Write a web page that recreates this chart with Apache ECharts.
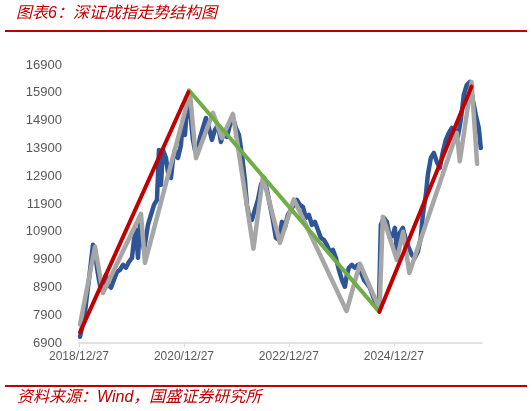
<!DOCTYPE html>
<html>
<head>
<meta charset="utf-8">
<title>深证成指走势结构图</title>
<script src="https://cdn.jsdelivr.net/npm/echarts@6/dist/echarts.min.js"></script>
<style>
  html, body { margin: 0; padding: 0; background: #fff; }
  #main { width: 532px; height: 411px; }
</style>
</head>
<body>
<div id="main"></div>
<script>
// x values are years after 2018/12/27
const yTicks = [6900, 16900, 1000]; // min, max, step
const xLabelYears = [2018, 2020, 2022, 2024];

// 深证成指 (daily close)
const indexT = [0.019, 0.057, 0.114, 0.152, 0.19, 0.229, 0.267, 0.305, 0.343, 0.381, 0.419, 0.457, 0.514, 0.552, 0.61, 0.667, 0.724, 0.781, 0.838, 0.895,
  0.952, 1.01, 1.048, 1.086, 1.124, 1.162, 1.2, 1.238, 1.276, 1.314, 1.371, 1.429, 1.486, 1.524, 1.562, 1.6, 1.657, 1.695, 1.752, 1.79,
  1.829, 1.886, 1.943, 1.981, 2.019, 2.057, 2.095, 2.133, 2.171, 2.21, 2.248, 2.305, 2.362, 2.419, 2.476, 2.533, 2.59, 2.648, 2.705, 2.762,
  2.819, 2.876, 2.933, 2.99, 3.048, 3.105, 3.162, 3.2, 3.238, 3.295, 3.352, 3.41, 3.467, 3.524, 3.581, 3.638, 3.695, 3.752, 3.81, 3.867,
  3.924, 3.981, 4.038, 4.095, 4.152, 4.21, 4.267, 4.324, 4.381, 4.438, 4.495, 4.552, 4.61, 4.667, 4.724, 4.781, 4.838, 4.895, 4.952, 5.01,
  5.067, 5.105, 5.143, 5.2, 5.257, 5.314, 5.371, 5.429, 5.486, 5.543, 5.6, 5.657, 5.714, 5.752, 5.81, 5.867, 5.924, 5.981, 6.019, 6.057,
  6.114, 6.171, 6.229, 6.286, 6.343, 6.4, 6.457, 6.514, 6.552, 6.61, 6.648, 6.705, 6.762, 6.819, 6.876, 6.933, 6.99, 7.048, 7.105, 7.162,
  7.219, 7.276, 7.333, 7.39, 7.448, 7.505, 7.562, 7.619, 7.657];
const indexClose = [7126, 7450, 7989, 8635, 9174, 9821, 10432, 10252, 9606, 9174, 8815, 9067, 9354, 8995, 8887, 9174, 9462, 9534, 9713, 9606,
  9821, 9965, 10612, 10971, 9965, 11151, 10612, 10252, 10683, 11151, 11510, 11869, 12049, 13845, 12588, 13845, 13558, 13055, 12839, 13486,
  13845, 13558, 14025, 14923, 14384, 15354, 15714, 15750, 14205, 13845, 13666, 14276, 14636, 14995, 14636, 14205, 14564, 14744, 14133, 14492,
  14312, 14744, 14995, 14636, 14384, 13666, 12767, 11869, 11510, 11330, 11689, 12049, 12588, 12839, 12408, 11869, 11330, 10683, 10612, 11258,
  11043, 11510, 11689, 11869, 12049, 11869, 11797, 11402, 11510, 11151, 11258, 10971, 10683, 10612, 10432, 10180, 10252, 9965, 9534, 9174,
  8923, 9354, 9606, 9713, 9606, 9713, 9462, 9174, 9031, 8887, 8599, 8348, 8096, 11151, 11402, 11258, 10683, 10791, 11043, 10252,
  10863, 11043, 10612, 10324, 10073, 9965, 10180, 10683, 11510, 12228, 12947, 13558, 13738, 13414, 13199, 13773, 14205, 14456, 14636, 14564,
  14312, 14923, 15821, 16181, 16289, 15642, 15103, 14636, 13917];

// 结构折线 (gray zigzag)
const waveT = [0.019, 0.305, 0.457, 1.181, 1.257, 2.114, 2.229, 2.552, 2.724, 2.933, 3.324, 3.505, 3.829, 4.095, 5.099, 5.352, 5.728,
  5.79, 6.057, 6.177, 6.295, 7.2, 7.257, 7.48, 7.587];
const waveValue = [7560, 10360, 8700, 11550, 9780, 15900, 13550, 15180, 14270, 15140, 10290, 12880, 10500, 12070, 8050, 9750, 8130,
  11440, 9890, 10900, 9420, 14460, 13440, 16290, 13340];

// trend lines
const upTrend1T = [0.02, 2.085];
const upTrend1 = [7290, 15930];
const downTrendT = [2.095, 5.724];
const downTrend = [15990, 8020];
const upTrend2T = [5.724, 7.48];
const upTrend2 = [8020, 16120];

const pairs = (xs, ys) => xs.map((x, i) => [x, ys[i]]);

const chart = echarts.init(document.getElementById('main'));

const lineSeries = (name, xs, ys, color, width) => ({
  name: name,
  type: 'line',
  data: pairs(xs, ys),
  showSymbol: false,
  symbol: 'none',
  lineStyle: { color: color, width: width, join: 'round', cap: 'round' },
  silent: true,
});

const noteStyle = {
  fontFamily: 'Liberation Sans, Noto Sans CJK SC',
  fontStyle: 'italic',
  fontWeight: 'normal',
  fontSize: 16,
  color: '#C00000',
};

const option = {
  animation: false,
  title: [
    { text: '图表6：深证成指走势结构图', left: 16, top: 6, padding: 0, textStyle: noteStyle },
    { text: '资料来源：Wind，国盛证券研究所', left: 17, top: 390, padding: 0, textStyle: noteStyle },
  ],
  graphic: [
    { type: 'line', shape: { x1: 5, y1: 31, x2: 527, y2: 31 }, style: { stroke: '#C00000', lineWidth: 2 } },
    { type: 'line', shape: { x1: 5, y1: 386, x2: 527, y2: 386 }, style: { stroke: '#C00000', lineWidth: 2 } },
  ],
  grid: {
    left: 79,
    right: 50,
    top: 65,
    bottom: 68,
  },
  xAxis: {
    type: 'value',
    min: 0,
    max: 7.68,
    interval: 2,
    splitLine: { show: false },
    axisLine: { lineStyle: { color: '#D9D9D9', width: 1.5 } },
    axisTick: { show: true, length: 4, lineStyle: { color: '#D9D9D9' } },
    axisLabel: {
      color: '#595959',
      fontSize: 12,
      fontFamily: 'Liberation Sans',
      margin: 8,
      showMaxLabel: false,
      formatter: (v) => (v % 2 === 0 && v / 2 < xLabelYears.length ? xLabelYears[v / 2] + '/12/27' : ''),
    },
  },
  yAxis: {
    type: 'value',
    min: yTicks[0],
    max: yTicks[1],
    interval: yTicks[2],
    splitLine: { show: false },
    axisLine: { show: false },
    axisTick: { show: false },
    axisLabel: {
      color: '#595959',
      fontSize: 13,
      fontFamily: 'Liberation Sans',
      margin: 17,
      formatter: (v) => String(v),
    },
  },
  series: [
    lineSeries('深证成指', indexT, indexClose, '#2F5597', 4.5),
    lineSeries('结构', waveT, waveValue, '#A6A6A6', 4.5),
    lineSeries('下降趋势', downTrendT, downTrend, '#70AD47', 4),
    lineSeries('上升趋势1', upTrend1T, upTrend1, '#C00000', 4),
    lineSeries('上升趋势2', upTrend2T, upTrend2, '#C00000', 4),
  ],
};

chart.setOption(option);
</script>
</body>
</html>
